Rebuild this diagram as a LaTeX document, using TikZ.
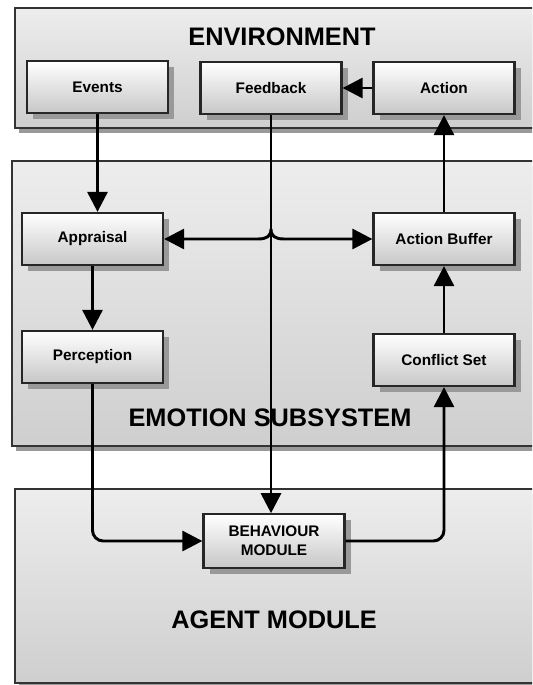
\documentclass[tikz,border=0pt]{standalone}
\usepackage{fontspec}
\setmainfont{Liberation Sans}
\usetikzlibrary{arrows.meta,shadows,calc}

\tikzset{every picture/.style={line width=0.75pt}}
\tikzset{
  panel/.style={draw=black!80, line width=1.5, top color=black!7, bottom color=black!19,
    drop shadow={shadow xshift=3pt, shadow yshift=-3.5pt, fill=black!40, opacity=1}},
  block/.style={draw=black!85, line width=1.7, top color=white, bottom color=black!22,
    minimum width=105.75pt, minimum height=39pt, inner sep=0pt, align=center,
    font=\bfseries\fontsize{11.5}{14}\selectfont,
    drop shadow={shadow xshift=4.5pt, shadow yshift=-4.5pt, fill=black!40, opacity=1}},
  title/.style={font=\bfseries\fontsize{19}{21}\selectfont},
  tip/.tip={Triangle[length=15pt,width=15pt]},
  link/.style={line width=2.2, -tip},
  twoway/.style={line width=2.2, tip-tip},
}

\begin{document}
\begin{tikzpicture}[x=0.75pt,y=0.75pt,yscale=-1,xscale=1]
\useasboundingbox (0,0) rectangle (532,685);
\clip (0,0) rectangle (532,685);

%Panels
\draw [panel] (15,8) rectangle (570,128) ;
\draw [panel] (12,161) rectangle (570,446) ;
\draw [panel] (15,489) rectangle (570,683) ;

% Panel titles
\node [title] (envtitle) at (282,37) {ENVIRONMENT};
\node [title] (emotitle) at (270,418) {EMOTION SUBSYSTEM};
\node [title] (agenttitle) at (274,620) {AGENT MODULE};

% Blocks
\node [block] (events) at (97.5,87) {Events};
\node [block] (feedback) at (271,88) {Feedback};
\node [block] (action) at (444,88) {Action};
\node [block] (appraisal) at (92.5,239) {Appraisal};
\node [block] (buffer) at (444,239) {Action Buffer};
\node [block] (perception) at (92.5,357) {Perception};
\node [block] (conflict) at (444,360) {Conflict Set};
\node [block, minimum height=40pt] (behaviour) at (274,541) {BEHAVIOUR\\MODULE};

\coordinate (hop) at (271,229);

% Connectors
\draw [link] (events.south) -- (events.south |- appraisal.north) ;
\draw [link] (appraisal) -- (perception) ;
\draw [link, rounded corners=8] (perception.south) |- (behaviour.west) ;
\draw [link] (feedback.south) -- (feedback.south |- behaviour.north) ;
\draw [link, rounded corners=8] (behaviour.east) -| (conflict.south) ;
\draw [link] (conflict) -- (buffer) ;
\draw [link] (buffer) -- (action) ;
\draw [link] (action) -- (feedback) ;
\draw [twoway] (appraisal.east) -- ($(hop)+(-13,10)$) .. controls ($(hop)+(-4,10)$) and ($(hop)+(0,7)$) .. (hop) .. controls ($(hop)+(0,7)$) and ($(hop)+(4,10)$) .. ($(hop)+(13,10)$) -- (buffer.west) ;

\end{tikzpicture}
\end{document}
